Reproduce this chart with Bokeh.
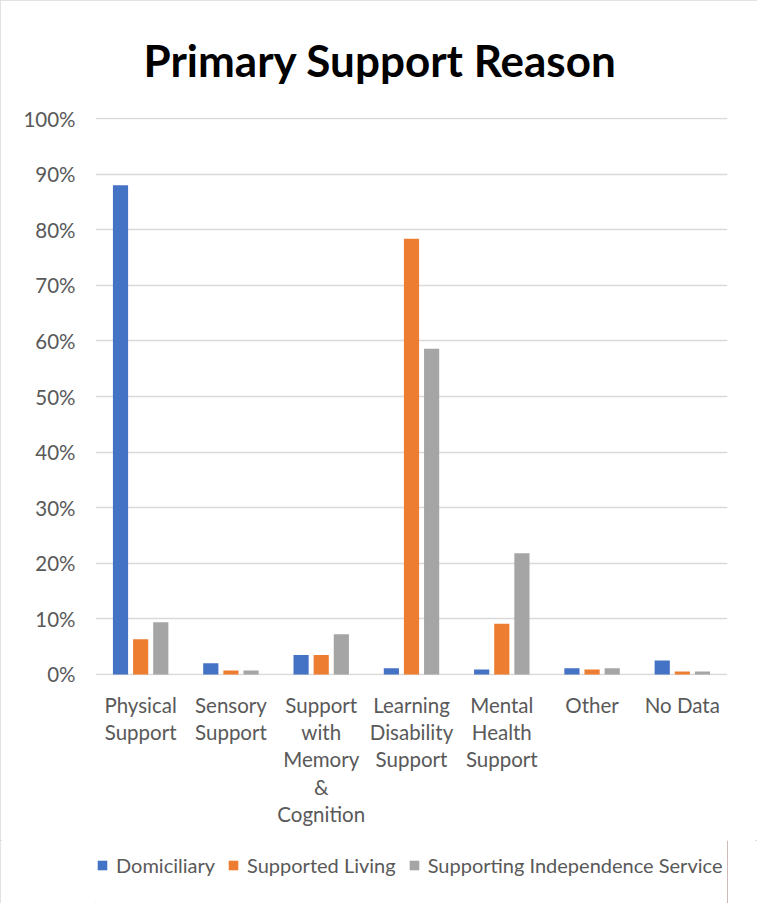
from bokeh.plotting import figure
from bokeh.layouts import column
from bokeh.models import (FactorRange, Range1d, FixedTicker, NumeralTickFormatter,
                          Legend, LegendItem, ColumnDataSource, Title)
from bokeh.transform import dodge
from bokeh.embed import file_html
from bokeh.resources import INLINE

categories = ["Physical\nSupport", "Sensory\nSupport", "Support\nwith\nMemory\n&\nCognition",
              "Learning\nDisability\nSupport", "Mental\nHealth\nSupport", "Other", "No Data"]
domiciliary = [0.880, 0.020, 0.035, 0.011, 0.009, 0.011, 0.025]
supported_living = [0.063, 0.007, 0.035, 0.784, 0.091, 0.009, 0.005]
supporting_independence = [0.094, 0.007, 0.072, 0.586, 0.218, 0.011, 0.005]
series_names = ["Domiciliary", "Supported Living", "Supporting Independence Service"]
y_ticks = [0, 0.1, 0.2, 0.3, 0.4, 0.5, 0.6, 0.7, 0.8, 0.9, 1.0]

colors = ["#4472C4", "#ED7D31", "#A5A5A5"]
FONT = "Lato"
GREY = "#595959"

source = ColumnDataSource(dict(cat=categories, dom=domiciliary, sl=supported_living,
                               sis=supporting_independence))

p = figure(width=757, height=840, output_backend="svg", toolbar_location=None,
           x_range=FactorRange(factors=categories, range_padding=0),
           y_range=Range1d(-0.002, 1.002),
           min_border_left=95, min_border_right=30, min_border_top=112, min_border_bottom=165)

p.title = Title(text="Primary Support Reason", align="left", offset=48, text_font=FONT,
                text_font_size="44px", text_font_style="bold", text_color="#000000",
                standoff=63)

for col, off, c in zip(["dom", "sl", "sis"], [-0.223, 0.0, 0.223], colors):
    p.vbar(x=dodge("cat", off, range=p.x_range), top=col, width=0.168, source=source,
           fill_color=c, line_color=None)

p.outline_line_color = None
p.background_fill_color = "white"
p.border_fill_color = "white"

p.xgrid.grid_line_color = None
p.ygrid.grid_line_color = "#D9D9D9"
p.ygrid.grid_line_width = 1.5
p.ygrid.ticker = FixedTicker(ticks=y_ticks)

p.yaxis.ticker = FixedTicker(ticks=y_ticks)
p.yaxis.formatter = NumeralTickFormatter(format="0%")
for ax in (p.xaxis[0], p.yaxis[0]):
    ax.axis_line_color = None
    ax.major_tick_line_color = None
    ax.minor_tick_line_color = None
    ax.major_tick_out = 0
    ax.major_tick_in = 0
    ax.major_label_text_font = FONT
    ax.major_label_text_font_size = "20.5px"
    ax.major_label_text_color = GREY
p.yaxis.major_label_standoff = 20
p.xaxis.major_label_standoff = 17
p.xaxis.major_label_text_line_height = 1.14
p.xaxis.major_label_orientation = "horizontal"

# legend strip below the chart (its frame is aligned with the chart frame)
pl = figure(width=757, height=63, output_backend="svg", toolbar_location=None,
            x_axis_type=None, y_axis_type=None, x_range=Range1d(0, 1), y_range=Range1d(0, 1),
            min_border_left=95, min_border_right=30, min_border_top=0, min_border_bottom=0)
pl.outline_line_color = None
pl.background_fill_color = "white"
pl.border_fill_color = "white"
# swatch-only renderers: one off-range point each so the legend can draw its swatch
leg_renderers = [pl.vbar(x=[5], top=[1], width=0.1, fill_color=c, line_color=None) for c in colors]
legend = Legend(items=[LegendItem(label=n, renderers=[r]) for n, r in zip(series_names, leg_renderers)],
                orientation="horizontal", location=(1, 26),
                glyph_width=12, glyph_height=12, label_standoff=8, spacing=12,
                padding=0, margin=0, border_line_color=None, background_fill_alpha=0,
                label_text_font=FONT, label_text_font_size="20px", label_text_color=GREY)
pl.add_layout(legend)

layout = column(p, pl, spacing=0,
                styles={"outline": "2px solid #d9d9d9", "outline-offset": "-2px"})

open("out.html", "w").write(file_html(layout, INLINE))
